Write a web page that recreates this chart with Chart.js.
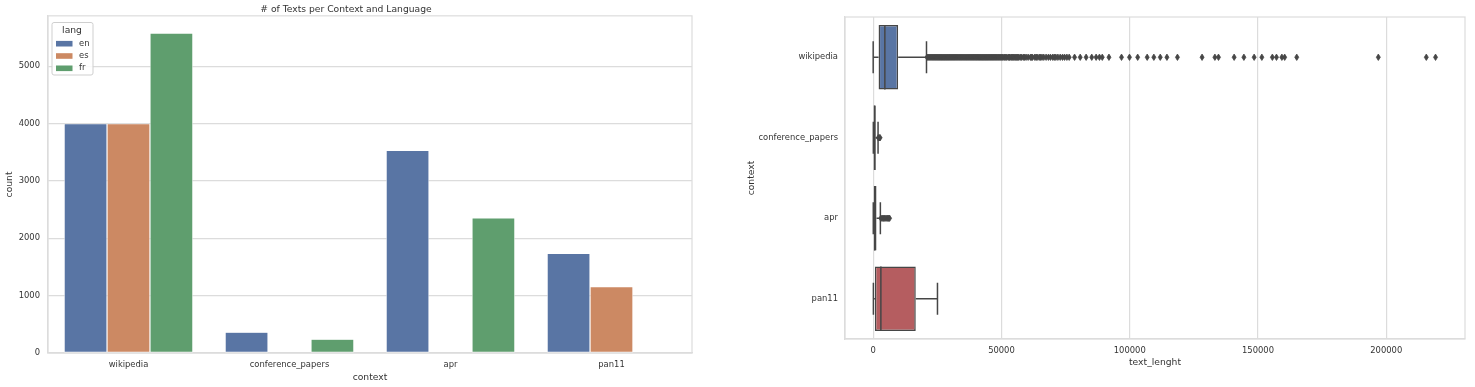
<!DOCTYPE html>
<html lang="en">
<head>
    <meta charset="UTF-8">
    <title># of Texts per Context and Language</title>
    <style>
        body { margin: 0; background: #fff; }
        #wrap { position: relative; width: 1475px; height: 387px; }
        #countChart { position: absolute; left: 0; top: 0; }
        #lengthChart { position: absolute; left: 740px; top: 0; }
    </style>
</head>
<body>
    <div id="wrap">
        <canvas id="countChart" width="740" height="387"></canvas>
        <canvas id="lengthChart" width="735" height="387"></canvas>
    </div>
    <script src="https://cdn.jsdelivr.net/npm/chart.js"></script>
    <script>
        // data
        const contexts = ['wikipedia', 'conference_papers', 'apr', 'pan11'];
        const langs = ['en', 'es', 'fr'];
        const enCounts = [4000, 363, 3532, 1737];
        const esCounts = [4000, 0, 0, 1158];
        const frCounts = [5580, 240, 2357, 0];
        const countTicks = [0, 1000, 2000, 3000, 4000, 5000];

        const boxMin = [0, 60, 40, 80];
        const boxQ1 = [2100, 250, 250, 660];
        const boxMedian = [4550, 550, 600, 3000];
        const boxQ3 = [9730, 1000, 1300, 16600];
        const boxMax = [20780, 1900, 2800, 25060];
        const wikiOutliers = [
            21000, 21400, 21800, 22200, 22600, 23000, 23400, 23800, 24200, 24600,
            25000, 25400, 25800, 26200, 26600, 27000, 27400, 27800, 28200, 28600,
            29000, 29400, 29800, 30200, 30600, 31000, 31400, 31800, 32200, 32600,
            33000, 33400, 33800, 34200, 34600, 35000, 35400, 35800, 36200, 36600,
            37000, 37400, 37800, 38200, 38600, 39000, 39400, 39800, 40200, 40600,
            41000, 41400, 41800, 42200, 42600, 43000, 43400, 43800, 44200, 44600,
            45000, 45400, 45800, 46200, 46600, 47000, 47400, 47800, 48200, 48600,
            49000, 49400, 49800, 50200, 50600, 51100, 51500, 52000, 52600, 53000,
            53300, 53800, 54200, 54600, 55000, 55500, 55900, 56300, 56700, 57300,
            57800, 58500, 59000, 59600, 60400, 61300, 61700, 62100, 63000, 63500,
            63900, 64700, 65200, 65800, 66500, 67400, 68300, 69100, 70000, 70600,
            71200, 72000, 72900, 73800, 74600, 75500, 76400, 78500, 80700, 83000,
            85200, 86900, 88200, 89300, 91900, 96800, 99900, 103100, 106800, 109400,
            111900, 114500, 118600, 128200, 133200, 134600, 140700, 144500, 148500,
            151500, 155600, 157200, 159300, 160400, 165100, 196900, 215600, 219200
        ];
        const conferenceOutliers = [2000, 2400, 2700];
        const aprOutliers = [3000, 3500, 4000, 4500, 5000, 5500, 6000, 6400];
        const pan11Outliers = [];
        const lengthTicks = [0, 50000, 100000, 150000, 200000];

        const outliers = [wikiOutliers, conferenceOutliers, aprOutliers, pan11Outliers];
        const langColors = ['#5975a4', '#cc8963', '#5f9e6e'];
        const boxColors = ['#5975a4', '#cc8963', '#5f9e6e', '#b55d60'];
        const gridColor = '#dcdcdc';
        const textColor = '#333';
        const lineGray = '#464646';

        Chart.defaults.font.family = '"DejaVu Sans", sans-serif';
        Chart.defaults.color = textColor;
        Chart.defaults.animation = false;

        // frame round the plot area, like the seaborn axes
        const frame = {
            id: 'frame',
            beforeDatasetsDraw(chart) {
                const a = chart.chartArea, ctx = chart.ctx;
                ctx.save();
                ctx.strokeStyle = gridColor;
                ctx.lineWidth = 1.2;
                ctx.strokeRect(a.left, a.top, a.right - a.left, a.bottom - a.top);
                ctx.restore();
            }
        };

        const langLegend = {
            id: 'langLegend',
            afterDraw(chart) {
                const ctx = chart.ctx;
                ctx.save();
                ctx.fillStyle = 'rgba(255,255,255,0.85)';
                ctx.strokeStyle = '#cfcfcf';
                ctx.lineWidth = 1;
                ctx.beginPath();
                ctx.roundRect(52, 22.5, 41, 52.5, 2);
                ctx.fill();
                ctx.stroke();
                ctx.fillStyle = textColor;
                ctx.textBaseline = 'middle';
                ctx.textAlign = 'center';
                ctx.font = '9.2px "DejaVu Sans"';
                ctx.fillText('lang', 72, 30.5);
                ctx.textAlign = 'left';
                ctx.font = '8.4px "DejaVu Sans"';
                chart.data.datasets.forEach((ds, i) => {
                    const y = 43.7 + i * 12.3;
                    ctx.fillStyle = ds.backgroundColor;
                    ctx.fillRect(56, y - 2.8, 16.5, 5.6);
                    ctx.fillStyle = textColor;
                    ctx.fillText(ds.label, 79, y);
                });
                ctx.restore();
            }
        };

        new Chart(document.getElementById('countChart'), {
            type: 'bar',
            data: {
                labels: contexts,
                datasets: [enCounts, esCounts, frCounts].map((vals, i) => ({
                    label: langs[i],
                    data: vals,
                    backgroundColor: langColors[i],
                    borderColor: '#ffffff',
                    borderWidth: 0.6,
                    borderSkipped: false,
                    categoryPercentage: 0.8,
                    barPercentage: 1.0
                }))
            },
            options: {
                responsive: false,
                devicePixelRatio: 1,
                layout: { padding: { left: 0, right: 48, top: 0, bottom: 0 } },
                plugins: {
                    legend: { display: false },
                    tooltip: { enabled: false },
                    title: {
                        display: true,
                        text: '# of Texts per Context and Language',
                        color: textColor,
                        font: { size: 9.2, weight: 'normal' },
                        padding: { top: 4, bottom: 0.8 }
                    }
                },
                scales: {
                    x: {
                        grid: { display: false, drawTicks: false },
                        border: { color: gridColor, width: 1.2 },
                        ticks: { font: { size: 8.4 }, padding: 7, maxRotation: 0 },
                        title: { display: true, text: 'context', font: { size: 9.2 }, padding: { top: 0, bottom: 4 } },
                        afterFit(scale) { scale.height = 34; }
                    },
                    y: {
                        min: 0,
                        max: 5880,
                        grid: { color: gridColor, lineWidth: 1.2, drawTicks: false },
                        border: { color: gridColor, width: 1.2 },
                        ticks: { font: { size: 8.4 }, padding: 8, callback: v => String(v) },
                        afterBuildTicks(scale) { scale.ticks = countTicks.map(v => ({ value: v })); },
                        title: { display: true, text: 'count', font: { size: 9.2 }, padding: { top: 4, bottom: 0 } },
                        afterFit(scale) { scale.width = 48; }
                    }
                }
            },
            plugins: [frame, langLegend]
        });

        // whiskers, caps, medians and outlier diamonds of the box plot
        const boxExtras = {
            id: 'boxExtras',
            afterDatasetsDraw(chart) {
                const ctx = chart.ctx;
                const xs = chart.scales.x, ys = chart.scales.y;
                const bars = chart.getDatasetMeta(0).data;
                ctx.save();
                ctx.strokeStyle = lineGray;
                contexts.forEach((c, i) => {
                    const y = ys.getPixelForValue(i);
                    const h = bars[i].height;
                    const lo = xs.getPixelForValue(boxMin[i]);
                    const q1 = xs.getPixelForValue(boxQ1[i]);
                    const med = xs.getPixelForValue(boxMedian[i]);
                    const q3 = xs.getPixelForValue(boxQ3[i]);
                    const hi = xs.getPixelForValue(boxMax[i]);
                    ctx.lineWidth = 1.5;
                    ctx.beginPath();
                    ctx.moveTo(lo, y); ctx.lineTo(q1, y);
                    ctx.moveTo(q3, y); ctx.lineTo(hi, y);
                    ctx.moveTo(lo, y - h / 4); ctx.lineTo(lo, y + h / 4);
                    ctx.moveTo(hi, y - h / 4); ctx.lineTo(hi, y + h / 4);
                    ctx.moveTo(med, y - h / 2); ctx.lineTo(med, y + h / 2);
                    ctx.stroke();
                    ctx.fillStyle = lineGray;
                    ctx.lineWidth = 0.8;
                    outliers[i].forEach(v => {
                        const x = xs.getPixelForValue(v);
                        ctx.beginPath();
                        ctx.moveTo(x, y - 3.2);
                        ctx.lineTo(x + 2, y);
                        ctx.lineTo(x, y + 3.2);
                        ctx.lineTo(x - 2, y);
                        ctx.closePath();
                        ctx.fill();
                        ctx.stroke();
                    });
                });
                ctx.restore();
            }
        };

        new Chart(document.getElementById('lengthChart'), {
            type: 'bar',
            data: {
                labels: contexts,
                datasets: [{
                    label: 'text_lenght',
                    data: contexts.map((c, i) => [boxQ1[i], boxQ3[i]]),
                    backgroundColor: boxColors,
                    borderColor: lineGray,
                    borderWidth: 1.5,
                    borderSkipped: false,
                    categoryPercentage: 0.8,
                    barPercentage: 1.0
                }]
            },
            options: {
                indexAxis: 'y',
                responsive: false,
                devicePixelRatio: 1,
                layout: { padding: { left: 2, right: 10, top: 17, bottom: 0 } },
                plugins: {
                    legend: { display: false },
                    tooltip: { enabled: false }
                },
                scales: {
                    x: {
                        min: -10985,
                        max: 230685,
                        grid: { color: gridColor, lineWidth: 1.2, drawTicks: false },
                        border: { color: gridColor, width: 1.2 },
                        ticks: { font: { size: 8.4 }, padding: 7, maxRotation: 0, callback: v => String(v) },
                        afterBuildTicks(scale) { scale.ticks = lengthTicks.map(v => ({ value: v })); },
                        title: { display: true, text: 'text_lenght', font: { size: 9.2 }, padding: { top: 0, bottom: 19 } },
                        afterFit(scale) { scale.height = 48; }
                    },
                    y: {
                        grid: { display: false, drawTicks: false },
                        border: { color: gridColor, width: 1.2 },
                        ticks: { font: { size: 8.4 }, padding: 7 },
                        title: { display: true, text: 'context', font: { size: 9.2 }, padding: { top: 4, bottom: 0 } },
                        afterFit(scale) { scale.width = 103; }
                    }
                }
            },
            plugins: [frame, boxExtras]
        });
    </script>
</body>
</html>
